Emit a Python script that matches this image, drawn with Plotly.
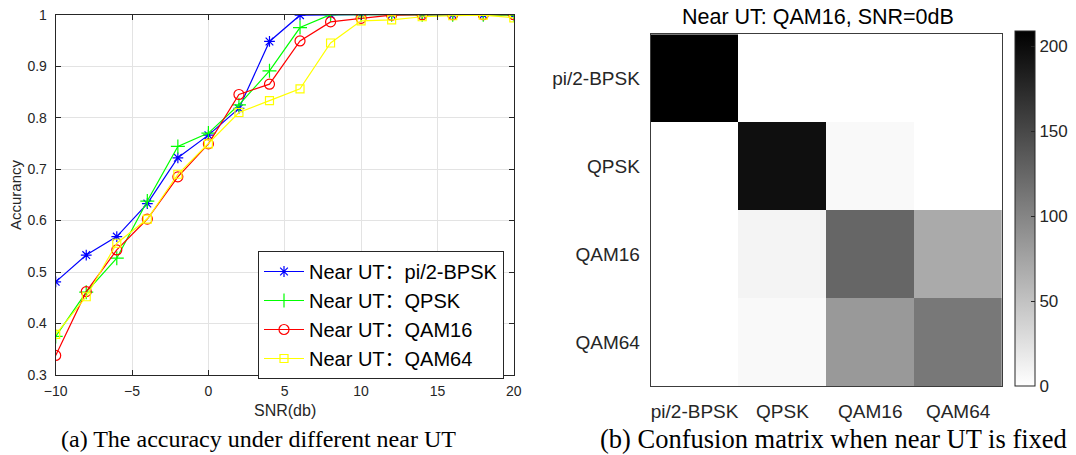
import plotly.graph_objects as go

# ---- accuracy vs SNR ----
snr = [-10, -8, -6, -4, -2, 0, 2, 4, 6, 8, 10, 12, 14, 16, 18, 20]
acc_bpsk = [0.481, 0.533, 0.569, 0.633, 0.722, 0.766, 0.818, 0.948, 0.999, 1.0, 1.0, 1.0, 1.0, 1.0, 1.0, 1.0]
acc_qpsk = [0.375, 0.461, 0.527, 0.638, 0.744, 0.770, 0.825, 0.891, 0.975, 1.0, 1.0, 1.0, 1.0, 1.0, 1.0, 0.999]
acc_qam16 = [0.338, 0.462, 0.543, 0.603, 0.685, 0.749, 0.845, 0.865, 0.949, 0.986, 0.993, 0.999, 1.0, 1.0, 1.0, 1.0]
acc_qam64 = [0.379, 0.452, 0.556, 0.603, 0.690, 0.749, 0.810, 0.833, 0.856, 0.945, 0.988, 0.990, 0.996, 0.998, 0.999, 0.994]

series_names = ["Near UT：pi/2-BPSK", "Near UT：QPSK", "Near UT：QAM16", "Near UT：QAM64"]
series_colors = ["#0000ff", "#00ff00", "#ff0000", "#ffff00"]
series_symbols = ["asterisk-open", "cross-thin-open", "circle-open", "square-open"]
series_sizes = [9, 10, 10, 8]

# ---- confusion matrix (rows: true class, cols: predicted class) ----
classes = ["pi/2-BPSK", "QPSK", "QAM16", "QAM64"]
conf = [
    [209, 0, 0, 0],
    [0, 197, 5, 0],
    [0, 9, 125, 70],
    [0, 5, 84, 111],
]
cbar_ticks = [0, 50, 100, 150, 200]

W, H = 1076, 455
SANS = "Arial, 'Liberation Sans', 'Noto Sans CJK SC', sans-serif"
SERIF = "'Times New Roman', 'Liberation Serif', serif"
AX = "#262626"

fig = go.Figure()

for ys, name, col, sym, sz in zip(
    [acc_bpsk, acc_qpsk, acc_qam16, acc_qam64],
    series_names, series_colors, series_symbols, series_sizes,
):
    fig.add_trace(go.Scatter(
        x=snr, y=ys, name=name, mode="lines+markers",
        line=dict(color=col, width=1.2),
        marker=dict(symbol=sym, size=sz, color=col, line=dict(color=col, width=1.2)),
        xaxis="x", yaxis="y",
    ))

fig.add_trace(go.Heatmap(
    z=conf, x=list(range(4)), y=list(range(4)),
    colorscale=[[0, "#ffffff"], [1, "#000000"]], zmin=0, zmax=209,
    xaxis="x2", yaxis="y2", showscale=True,
    colorbar=dict(
        thickness=20, thicknessmode="pixels",
        len=(386 - 31) / H, lenmode="fraction",
        x=1015 / W, xanchor="left", y=1 - 386 / H, yanchor="bottom",
        xpad=0, ypad=0, outlinewidth=1, outlinecolor=AX,
        tickvals=cbar_ticks, ticks="inside", ticklen=4, tickcolor=AX,
        tickfont=dict(family=SANS, size=17, color=AX),
    ),
    hoverongaps=False,
))

fig.update_layout(
    width=W, height=H,
    margin=dict(l=0, r=0, t=0, b=0, autoexpand=False),
    paper_bgcolor="white", plot_bgcolor="white",
    showlegend=True,
    legend=dict(
        x=504 / W, xanchor="right", y=1 - 251 / H, yanchor="top",
        bgcolor="white", bordercolor=AX, borderwidth=1,
        font=dict(family=SANS, size=20, color="#000000"),
        tracegroupgap=0, itemwidth=40,
    ),
    xaxis=dict(
        domain=[55.7 / W, 513.8 / W], anchor="y",
        range=[-10, 20], dtick=5, tick0=0,
        showgrid=True, gridcolor="#e3e3e3", gridwidth=1, zeroline=False,
        showline=True, linecolor=AX, linewidth=1, mirror="ticks",
        ticks="inside", ticklen=5, tickcolor=AX, ticklabelstandoff=3,
        tickfont=dict(family=SANS, size=14, color=AX),
    ),
    yaxis=dict(
        domain=[1 - 375 / H, 1 - 14.7 / H], anchor="x",
        range=[0.3, 1.0], dtick=0.1, tick0=0,
        showgrid=True, gridcolor="#e3e3e3", gridwidth=1, zeroline=False,
        showline=True, linecolor=AX, linewidth=1, mirror="ticks",
        ticks="inside", ticklen=5, tickcolor=AX, ticklabelstandoff=5,
        tickfont=dict(family=SANS, size=14, color=AX),
    ),
    xaxis2=dict(
        domain=[650.7 / W, 1002 / W], anchor="y2",
        range=[-0.5, 3.5], tickvals=list(range(4)), ticktext=classes,
        showgrid=False, zeroline=False,
        showline=True, linecolor="#3c3c3c", linewidth=1, mirror=True,
        ticks="", ticklabelstandoff=8,
        tickfont=dict(family=SANS, size=19, color=AX),
    ),
    yaxis2=dict(
        domain=[1 - 386 / H, 1 - 34.3 / H], anchor="x2",
        range=[3.5, -0.5], tickvals=list(range(4)), ticktext=classes,
        showgrid=False, zeroline=False,
        showline=True, linecolor="#3c3c3c", linewidth=1, mirror=True,
        ticks="", ticklabelstandoff=6,
        tickfont=dict(family=SANS, size=19, color=AX),
    ),
)

annotations = [
    dict(text="Accurancy", x=15 / W, y=1 - 195 / H, textangle=-90,
         font=dict(family=SANS, size=15, color=AX)),
    dict(text="SNR(db)", x=284.8 / W, y=1 - 410 / H,
         font=dict(family=SANS, size=16, color=AX)),
    dict(text="Near UT: QAM16, SNR=0dB", x=818 / W, y=1 - 17.5 / H,
         font=dict(family=SANS, size=21.5, color="#000000")),
    dict(text="(a) The accuracy under different near UT", x=258 / W, y=1 - 439 / H,
         font=dict(family=SERIF, size=24, color="#000000")),
    dict(text="(b) Confusion matrix when near UT is fixed", x=833 / W, y=1 - 439 / H,
         font=dict(family=SERIF, size=26.5, color="#000000")),
]
for a in annotations:
    a.update(xref="paper", yref="paper", showarrow=False, xanchor="center", yanchor="middle")
fig.update_layout(annotations=annotations)

fig.write_html("out.html")
